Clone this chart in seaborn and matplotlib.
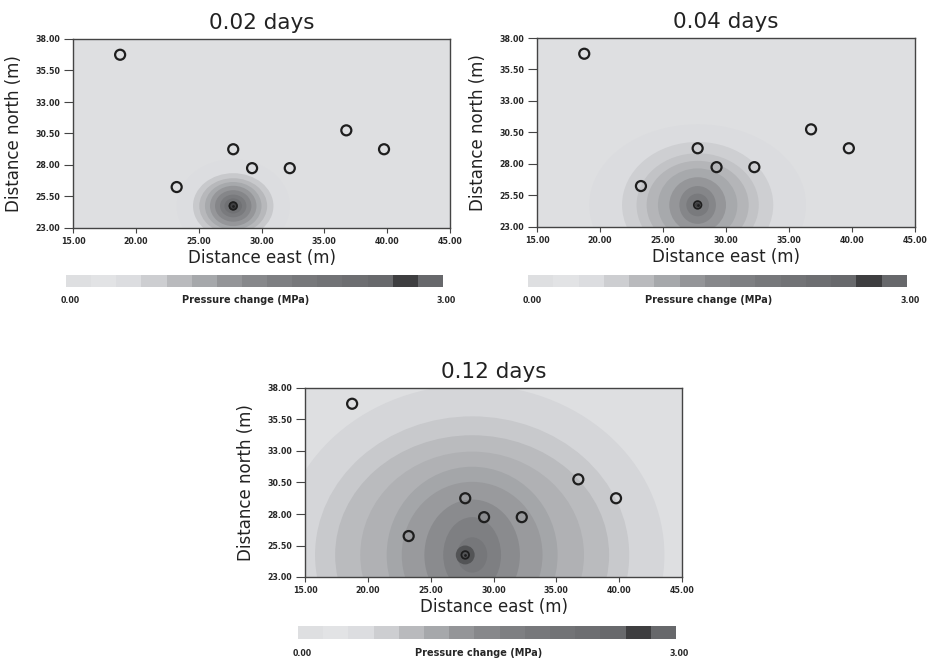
import matplotlib
matplotlib.use("Agg")
import matplotlib.pyplot as plt
from matplotlib.patches import Ellipse
from matplotlib.colors import LinearSegmentedColormap, ListedColormap, Normalize
from matplotlib.ticker import FormatStrFormatter
import seaborn as sns
import numpy as np

# panel titles
times = ["0.02 days", "0.04 days", "0.12 days"]

# monitoring wells and injection point (m)
well_x = [18.75, 23.25, 27.75, 29.25, 32.25, 36.75, 39.75]
well_y = [36.75, 26.25, 29.25, 27.75, 27.75, 30.75, 29.25]
inj_x = [27.75]
inj_y = [24.75]

# pressure rings (outer -> inner): half widths, half heights (m), pressure (MPa)
ring_cx = [27.75, 27.75, 28.3]
ring_cy = [24.75, 24.75, 24.75]
bg_p = [0.1, 0.1, 0.1]
rx_002 = [4.5, 3.2, 2.7, 2.25, 1.85, 1.45, 1.05, 0.7]
ry_002 = [3.7, 2.6, 2.2, 1.9, 1.6, 1.25, 0.9, 0.6]
p_002 = [0.5, 0.75, 0.92, 1.1, 1.3, 1.55, 1.85, 2.2]
rx_004 = [8.6, 6.0, 4.85, 4.05, 3.15, 2.25, 1.45, 0.9]
ry_004 = [6.4, 5.0, 4.1, 3.5, 2.9, 2.2, 1.5, 0.9]
p_004 = [0.52, 0.68, 0.82, 0.95, 1.1, 1.3, 1.55, 1.85]
rx_012 = [15.3, 12.5, 10.9, 8.9, 6.8, 5.6, 3.8, 2.3, 1.2]
ry_012 = [13.5, 11.0, 9.5, 8.2, 7.0, 5.8, 4.4, 3.0, 1.4]
p_012 = [0.6, 0.75, 0.9, 1.0, 1.12, 1.25, 1.45, 1.7, 1.95]
# dark spot right at the injection point
core_r = [0.35, 0.22, 0.75]
core_p = [2.7, 2.7, 2.6]

# colour scale
cbar_levels = [0.0, 0.2, 0.4, 0.6, 0.8, 1.0, 1.2, 1.4, 1.6, 1.8, 2.0, 2.2, 2.4, 2.6, 2.8, 3.0]
cbar_colors = ["#dedfe1", "#e2e3e5", "#dcdde0", "#cdced1", "#b9babd", "#a6a8ab", "#949598",
               "#87888b", "#7e7f82", "#77787b", "#727376", "#6d6e71", "#68696c", "#3e3e40", "#67686b"]

xticks = [15, 20, 25, 30, 35, 40, 45]
yticks = [23.0, 25.5, 28.0, 30.5, 33.0, 35.5, 38.0]

sns.set_style("white")
plt.rcParams["font.family"] = ["DejaVu Sans"]

vmin, vmax = cbar_levels[0], cbar_levels[-1]
norm = Normalize(vmin, vmax)
mids = [(a + b) / 2 for a, b in zip(cbar_levels[:-1], cbar_levels[1:])]
field_cmap = LinearSegmentedColormap.from_list(
    "field", [(0.0, cbar_colors[0])] + [(norm(m), c) for m, c in zip(mids, cbar_colors)] + [(1.0, cbar_colors[-1])]
)
bar_cmap = ListedColormap(cbar_colors)

fig = plt.figure(figsize=(9.3, 6.61), dpi=100)
W, H = 930, 661
# pixel boxes (left, top, right, bottom) for the panels and their colour bars
ax_boxes = [(73, 39, 450, 228), (537, 38, 915, 227), (305, 388, 682, 577)]
cb_boxes = [(66, 275, 443, 287), (528, 275, 907, 287), (298, 626, 676, 639)]
rings = [(rx_002, ry_002, p_002), (rx_004, ry_004, p_004), (rx_012, ry_012, p_012)]

for i, (title, (l, t, r, b), (cl, ct, cr, cbt), (rxs, rys, ps)) in enumerate(zip(times, ax_boxes, cb_boxes, rings)):
    ax = fig.add_axes([l / W, 1 - b / H, (r - l) / W, (b - t) / H])
    ax.set_facecolor(field_cmap(norm(bg_p[i])))
    for rx, ry, p in zip(rxs, rys, ps):
        ax.add_patch(Ellipse((ring_cx[i], ring_cy[i]), 2 * rx, 2 * ry,
                             facecolor=field_cmap(norm(p)), edgecolor="none", zorder=0))
    ax.add_patch(Ellipse((inj_x[0], inj_y[0]), 2 * core_r[i], 2 * core_r[i],
                         facecolor=field_cmap(norm(core_p[i])), edgecolor="none", zorder=1))
    sns.scatterplot(x=well_x, y=well_y, ax=ax, s=52, facecolor="none", edgecolor="#1e1e1e",
                    linewidth=1.6, zorder=3, legend=False)
    sns.scatterplot(x=inj_x, y=inj_y, ax=ax, s=30, facecolor="none", edgecolor="#1e1e1e",
                    linewidth=1.3, zorder=3, legend=False)
    sns.scatterplot(x=inj_x, y=inj_y, ax=ax, s=4, color="#1e1e1e", linewidth=0, zorder=4, legend=False)

    ax.set_xlim(xticks[0], xticks[-1])
    ax.set_ylim(yticks[0], yticks[-1])
    ax.set_xticks(xticks)
    ax.set_yticks(yticks)
    ax.xaxis.set_major_formatter(FormatStrFormatter("%.2f"))
    ax.yaxis.set_major_formatter(FormatStrFormatter("%.2f"))
    for lab in ax.get_xticklabels() + ax.get_yticklabels():
        lab.set_fontsize(5.7)
        lab.set_fontweight("bold")
    ax.tick_params(axis="y", direction="out", length=6.5, width=0.8, color="#444444", pad=2.5, left=True)
    ax.tick_params(axis="x", direction="out", length=3.5, width=0.8, color="#444444", pad=3, bottom=True)
    for sp in ax.spines.values():
        sp.set_visible(True)
        sp.set_color("#444444")
        sp.set_linewidth(1.0)
    ax.set_xlabel("Distance east (m)", fontsize=12, labelpad=2, color="#222222")
    ax.set_ylabel("Distance north (m)", fontsize=12, labelpad=9, color="#222222")
    ax.set_title(title, fontsize=15.5, pad=7, color="#222222")

    cax = fig.add_axes([cl / W, 1 - cbt / H, (cr - cl) / W, (cbt - ct) / H])
    sns.heatmap(np.array([mids]), cmap=bar_cmap, vmin=vmin, vmax=vmax, cbar=False, ax=cax,
                xticklabels=False, yticklabels=False)
    cax.text(4 / (cr - cl), -1.1, "0.00", transform=cax.transAxes, ha="center", va="center",
             fontsize=5.7, fontweight="bold")
    cax.text(1 + 3 / (cr - cl), -1.1, "3.00", transform=cax.transAxes, ha="center", va="center",
             fontsize=5.7, fontweight="bold")
    cax.text(0.477, -1.1, "Pressure change (MPa)", transform=cax.transAxes, ha="center", va="center",
             fontsize=7, fontweight="bold")

fig.savefig("out.png", dpi=100)
